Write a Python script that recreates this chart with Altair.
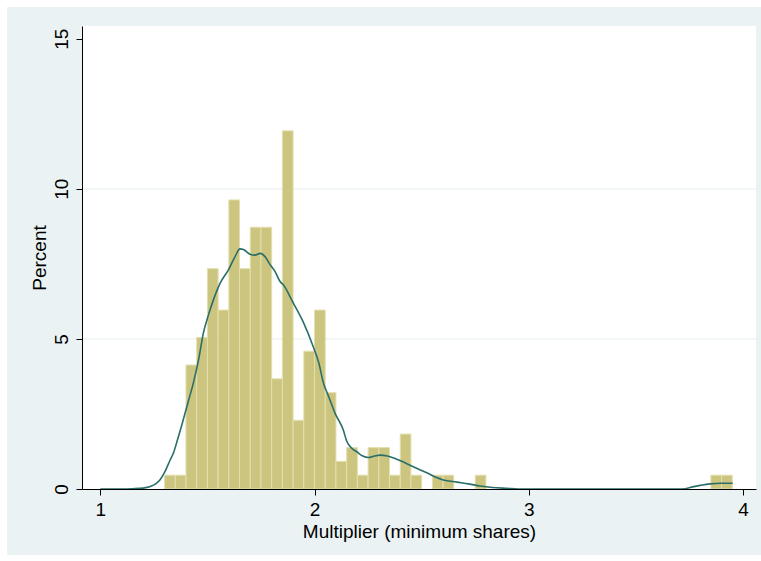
import altair as alt
import pandas as pd

# Histogram of the multiplier: bins of width 0.05 starting at 1.30, heights in percent
BIN_START = 1.30
BIN_WIDTH = 0.05
percent = [
    0.46, 0.46, 4.13, 5.05, 7.34, 5.96, 9.63, 7.34, 8.72, 8.72,
    3.67, 11.93, 2.29, 4.59, 5.96, 3.21, 0.92, 1.38, 0.46, 1.38,
    1.38, 0.46, 1.83, 0.46, 0.00, 0.46, 0.46, 0.00, 0.00, 0.46,
    0.00, 0.00, 0.00, 0.00, 0.00, 0.00, 0.00, 0.00, 0.00, 0.00,
    0.00, 0.00, 0.00, 0.00, 0.00, 0.00, 0.00, 0.00, 0.00, 0.00,
    0.00, 0.46, 0.46,
]

# Kernel density overlay, scaled to percent per bin
kde_x = [
    1.00, 1.10, 1.15, 1.20, 1.233, 1.26, 1.28, 1.30, 1.325, 1.341,
    1.36, 1.387, 1.41, 1.434, 1.46, 1.481, 1.505, 1.528, 1.559, 1.598,
    1.629, 1.652, 1.668, 1.699, 1.722, 1.746, 1.769, 1.79, 1.816, 1.839,
    1.854, 1.901, 1.948, 1.994, 2.02, 2.041, 2.065, 2.096, 2.134, 2.150,
    2.175, 2.197, 2.225, 2.251, 2.28, 2.306, 2.34, 2.376, 2.42, 2.461,
    2.524, 2.57, 2.601, 2.664, 2.72, 2.773, 2.83, 2.90, 2.95, 3.70,
    3.73, 3.77, 3.80, 3.846, 3.90, 3.952,
]
kde_y = [
    0.00, 0.00, 0.01, 0.03, 0.08, 0.18, 0.32, 0.55, 0.95, 1.19,
    1.63, 2.30, 2.90, 3.52, 4.35, 5.19, 5.80, 6.30, 6.85, 7.30,
    7.74, 8.00, 7.98, 7.82, 7.79, 7.85, 7.74, 7.50, 7.24, 6.91,
    6.80, 6.19, 5.55, 4.74, 4.20, 3.55, 3.10, 2.52, 1.97, 1.60,
    1.35, 1.24, 1.10, 1.05, 1.10, 1.13, 1.10, 1.02, 0.88, 0.74,
    0.54, 0.38, 0.30, 0.23, 0.17, 0.10, 0.05, 0.02, 0.00, 0.00,
    0.01, 0.08, 0.12, 0.17, 0.19, 0.19,
]

x_ticks = [1, 2, 3, 4]
y_ticks = [0, 5, 10, 15]
grid_values = [5, 10]

W, H = 674, 463
PAD = {"left": 82, "top": 26, "right": 5, "bottom": 72}
FONT = "Liberation Sans"
BG = "#EAF2F3"
BAR_FILL = "#CCC580"
BAR_EDGE = "#E4DFAE"
LINE = "#2A6E68"

hist = pd.DataFrame({
    "lo": [BIN_START + i * BIN_WIDTH for i in range(len(percent))],
    "hi": [BIN_START + (i + 1) * BIN_WIDTH for i in range(len(percent))],
    "pct": percent,
})
hist = hist[hist["pct"] > 0]
kde = pd.DataFrame({"x": kde_x, "y": kde_y})
grid = pd.DataFrame({"g": grid_values})
one = pd.DataFrame({"a": [0]})

xscale = alt.Scale(domain=[0.9146, 4.0607], nice=False, zero=False)
yscale = alt.Scale(domain=[0, 15.423], nice=False)

common = dict(
    grid=False, domainColor="black", domainWidth=1, tickColor="black",
    tickWidth=1, tickSize=6, labelFontSize=19, titleFontSize=19,
    labelFont=FONT, titleFont=FONT, labelColor="black", titleColor="black",
    titleFontWeight="normal", zindex=1, labelFlush=False, format="d",
)
xaxis = alt.Axis(values=x_ticks, title="Multiplier (minimum shares)",
                 labelPadding=5, titlePadding=3, **common)
yaxis = alt.Axis(values=y_ticks, title="Percent", labelAngle=270,
                 labelAlign="center", labelBaseline="bottom",
                 labelPadding=5, titlePadding=3, **common)

# Outer light frame and white plot region
frame = alt.Chart(one).mark_rect(color=BG).encode(
    x=alt.value(-75), x2=alt.value(679), y=alt.value(-19), y2=alt.value(529)
)
panel = alt.Chart(one).mark_rect(color="white").encode(
    x=alt.value(0), x2=alt.value(W), y=alt.value(0), y2=alt.value(H)
)
gridlines = alt.Chart(grid).mark_rule(color=BG, strokeWidth=1.2).encode(
    y=alt.Y("g:Q", scale=yscale, axis=yaxis),
    x=alt.value(0), x2=alt.value(W),
)
bars = alt.Chart(hist).mark_rect(
    color=BAR_FILL, stroke=BAR_EDGE, strokeWidth=1
).encode(
    x=alt.X("lo:Q", scale=xscale, axis=xaxis),
    x2="hi:Q",
    y=alt.Y("pct:Q", scale=yscale, axis=yaxis),
    y2=alt.datum(0),
)
density = alt.Chart(kde).mark_line(
    color=LINE, strokeWidth=1.6, interpolate="monotone"
).encode(
    x=alt.X("x:Q", scale=xscale, axis=xaxis),
    y=alt.Y("y:Q", scale=yscale, axis=yaxis),
)

chart = alt.layer(frame, panel, gridlines, bars, density).properties(
    width=W, height=H, padding=PAD, autosize=alt.AutoSizeParams(type="none"),
    background="white",
).configure_view(strokeWidth=0)

chart.save("out.html", embed_options={"renderer": "svg", "actions": False})
